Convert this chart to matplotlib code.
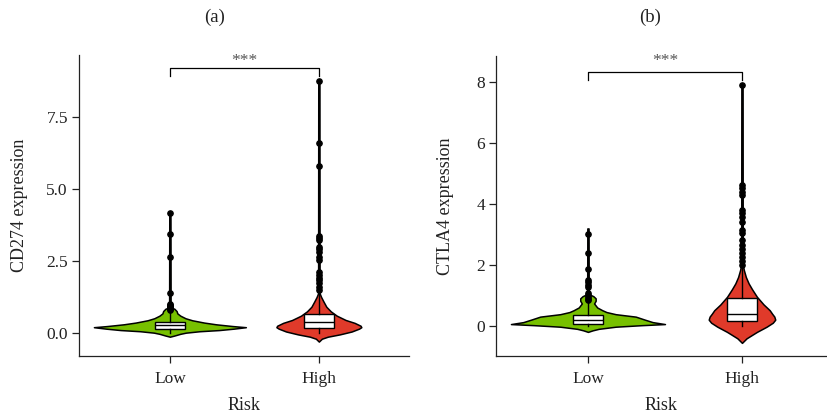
import numpy as np
import matplotlib
matplotlib.use('Agg')
import matplotlib.pyplot as plt

plt.rcParams['font.family'] = ['Liberation Serif', 'DejaVu Serif']

groups = ['Low', 'High']
fills = ['#77C000', '#E03A2A']

# (a) CD274 -- violin outline: level / half width
a_low_y = [-0.13, -0.09, -0.03, 0.01, 0.06, 0.1, 0.15, 0.2, 0.24, 0.3, 0.36, 0.44, 0.51, 0.6, 0.68, 0.76, 0.84, 0.89, 4.2]
a_low_w = [0, 0.03, 0.07, 0.107, 0.2, 0.33, 0.43, 0.51, 0.42, 0.31, 0.23, 0.15, 0.105, 0.07, 0.05, 0.045, 0.03, 0.005, 0.004]
a_high_y = [-0.30, -0.2, -0.13, -0.05, 0.05, 0.15, 0.2, 0.25, 0.35, 0.45, 0.6, 0.75, 0.91, 1.1, 1.25, 1.38, 8.75]
a_high_w = [0, 0.02, 0.06, 0.14, 0.22, 0.27, 0.285, 0.28, 0.24, 0.18, 0.12, 0.08, 0.05, 0.03, 0.015, 0.005, 0.004]
a_box = [(0.15, 0.27, 0.39, 0.0, 0.75), (0.16, 0.37, 0.65, 0.0, 1.38)]
a_out_low = [4.16, 3.44, 2.62, 1.40, 1.02, 0.98, 0.94, 0.90, 0.86, 0.82, 0.78]
a_out_high = [8.73, 6.59, 5.80, 3.37, 3.30, 3.22, 3.0, 2.92, 2.8, 2.65, 2.55,
              2.12, 2.02, 1.92, 1.83, 1.72, 1.6, 1.5]

# (b) CTLA4
b_low_y = [-0.2, -0.15, -0.1, -0.03, 0.02, 0.056, 0.12, 0.2, 0.3, 0.38, 0.45, 0.51, 0.6, 0.73, 0.82, 0.9, 0.97, 1.04, 3.19]
b_low_w = [0, 0.03, 0.07, 0.18, 0.35, 0.5, 0.42, 0.37, 0.31, 0.18, 0.12, 0.093, 0.06, 0.04, 0.05, 0.05, 0.035, 0.005, 0.004]
b_high_y = [-0.56, -0.41, -0.3, -0.2, -0.03, 0.1, 0.2, 0.3, 0.4, 0.51, 0.7, 0.95, 1.2, 1.39, 1.6, 1.83, 2.0, 7.9]
b_high_w = [0, 0.03, 0.065, 0.097, 0.16, 0.2, 0.216, 0.21, 0.195, 0.18, 0.14, 0.097, 0.065, 0.043, 0.025, 0.012, 0.005, 0.004]
b_box = [(0.06, 0.19, 0.35, 0.0, 0.78), (0.15, 0.38, 0.92, 0.0, 2.0)]
b_out_low = [3.0, 2.39, 1.85, 1.5, 1.42, 1.35, 1.28, 1.06, 1.0, 0.94, 0.88, 0.84]
b_out_high = [7.89, 4.61, 4.5, 4.4, 4.28, 3.81, 3.68, 3.57, 3.41, 3.14, 3.03,
              2.8, 2.65, 2.5, 2.38, 2.25, 2.12, 2.0]

panels = [
    dict(title='(a)', ylabel='CD274 expression', ylim=(-0.8, 9.65), xlim=(0.39, 2.605),
         yticks=[0, 2.5, 5, 7.5], fmt='{:.1f}', prof=[(a_low_y, a_low_w), (a_high_y, a_high_w)],
         box=a_box, out=[a_out_low, a_out_high], bracket=(9.2, 8.92), star=9.45,
         pos=[79 / 827, 1 - 356 / 418, 330 / 827, 301 / 418], tx=215, lx=20),
    dict(title='(b)', ylabel='CTLA4 expression', ylim=(-0.99, 8.84), xlim=(0.403, 2.552),
         yticks=[0, 2, 4, 6, 8], fmt='{:.0f}', prof=[(b_low_y, b_low_w), (b_high_y, b_high_w)],
         box=b_box, out=[b_out_low, b_out_high], bracket=(8.32, 8.06), star=8.68,
         pos=[496 / 827, 1 - 356 / 418, 331 / 827, 300 / 418], tx=650, lx=446),
]

fig = plt.figure(figsize=(8.27, 4.18), dpi=100)

for p in panels:
    ax = fig.add_axes(p['pos'])
    for i, (yy, ww) in enumerate(p['prof']):
        x = i + 1
        yy = np.array(yy)
        ww = np.array(ww)
        ax.fill_betweenx(yy, x - ww, x + ww, facecolor=fills[i], edgecolor='black', linewidth=1.1, zorder=2)
    stats = []
    for i, (q1, med, q3, lo, hi) in enumerate(p['box']):
        stats.append(dict(q1=q1, med=med, q3=q3, whislo=lo, whishi=hi, fliers=p['out'][i]))
    ax.bxp(stats, positions=[1, 2], widths=0.2, patch_artist=True, showcaps=False,
           boxprops=dict(facecolor='white', edgecolor='black', linewidth=1.0),
           medianprops=dict(color='black', linewidth=1.0),
           whiskerprops=dict(color='black', linewidth=1.0),
           flierprops=dict(marker='o', markerfacecolor='black', markeredgecolor='black', markersize=3.8),
           zorder=3)
    top, leg = p['bracket']
    ax.plot([1, 1, 2, 2], [leg, top, top, leg], color='black', linewidth=0.9, zorder=4)
    ax.text(1.5, p['star'], '***', ha='center', va='center', fontsize=12.5, color='#555555')

    ax.set_xlim(p['xlim'])
    ax.set_ylim(p['ylim'])
    ax.set_xticks([1, 2])
    ax.set_xticklabels(groups)
    ax.set_yticks(p['yticks'])
    ax.set_yticklabels([p['fmt'].format(v) for v in p['yticks']])
    ax.spines['top'].set_visible(False)
    ax.spines['right'].set_visible(False)
    for s in ['left', 'bottom']:
        ax.spines[s].set_linewidth(0.9)
        ax.spines[s].set_color('#222222')
    ax.tick_params(direction='out', length=5, width=0.9, color='#222222', labelsize=12.5,
                   labelcolor='#222222', pad=3)
    ax.tick_params(axis='x', pad=6)
    ax.set_xlabel('Risk', fontsize=13, color='#222222', labelpad=7)
    ax.set_ylabel(p['ylabel'], fontsize=13, color='#222222', va='center')
    ax.yaxis.set_label_coords((p['lx'] - p['pos'][0] * 827) / (p['pos'][2] * 827), 0.5)
    fig.text(p['tx'] / 827, 1 - 17 / 418, p['title'], ha='center', va='center', fontsize=13.5, color='#222222')

plt.savefig('out.png', dpi=100)
